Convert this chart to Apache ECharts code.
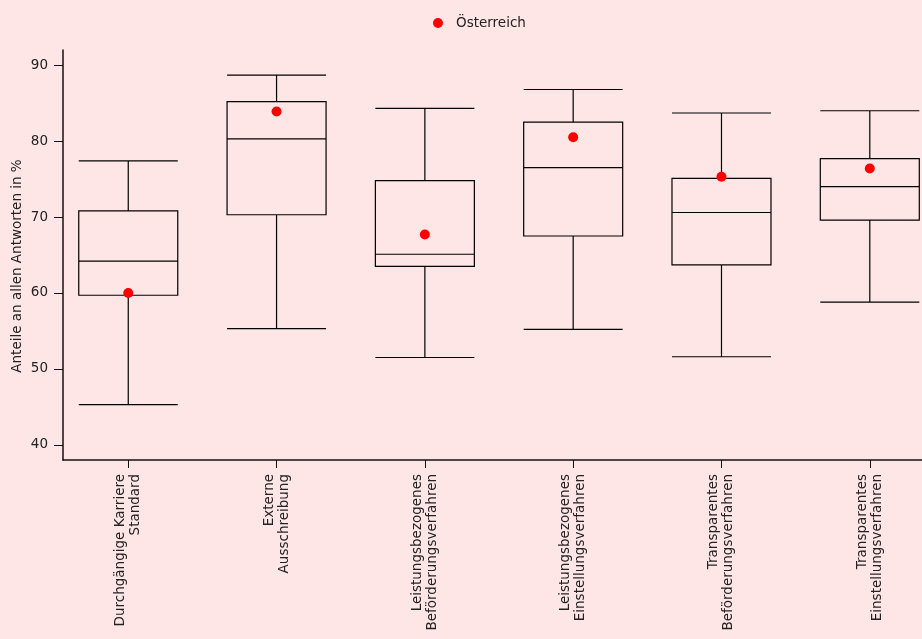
<!DOCTYPE html>
<html>
<head>
<meta charset="utf-8">
<script src="https://cdn.jsdelivr.net/npm/echarts@6/dist/echarts.min.js"></script>
<style>
  html, body { margin: 0; padding: 0; background: #fee6e6; }
  #chart { width: 922px; height: 639px; }
</style>
</head>
<body>
<div id="chart"></div>
<script>
// Survey item groups (x positions 1..6)
const categories = [
  'Durchgängige Karriere\nStandard',
  'Externe\nAusschreibung',
  'Leistungsbezogenes\nBeförderungsverfahren',
  'Leistungsbezogenes\nEinstellungsverfahren',
  'Transparentes\nBeförderungsverfahren',
  'Transparentes\nEinstellungsverfahren'
];
// Five-number summaries across countries (% of all answers)
const whiskerLow  = [45.3, 55.3, 51.5, 55.2, 51.6, 58.8];
const quartile1   = [59.7, 70.3, 63.5, 67.5, 63.7, 69.6];
const medians     = [64.2, 80.3, 65.1, 76.5, 70.6, 74.0];
const quartile3   = [70.8, 85.2, 74.8, 82.5, 75.1, 77.7];
const whiskerHigh = [77.4, 88.7, 84.3, 86.8, 83.7, 84.0];
// Values for Austria
const oesterreich = [60.0, 83.9, 67.7, 80.5, 75.3, 76.4];
// Axis ticks
const yTicks = [40, 50, 60, 70, 80, 90];
const xTicks = [1, 2, 3, 4, 5, 6];

const FONT = 'DejaVu Sans';
const FS = 13.5;
const TEXT = '#222';

const boxData = categories.map((c, i) => [
  xTicks[i], whiskerLow[i], quartile1[i], medians[i], quartile3[i], whiskerHigh[i]
]);
const pointData = categories.map((c, i) => [xTicks[i], oesterreich[i]]);

const chart = echarts.init(document.getElementById('chart'), null, { renderer: 'canvas' });
chart.setOption({
  backgroundColor: '#fee6e6',
  animation: false,
  textStyle: { fontFamily: FONT },
  legend: {
    data: ['Österreich'],
    left: 428,
    top: 11,
    icon: 'circle',
    itemWidth: 26,
    itemHeight: 10,
    textStyle: { fontFamily: FONT, fontSize: FS, color: TEXT }
  },
  grid: { left: 63, right: 0, top: 50, bottom: 179, containLabel: false, outerBoundsMode: 'none' },
  xAxis: {
    type: 'value',
    min: 0.56,
    max: 6.352,
    splitLine: { show: false },
    axisLine: { onZero: false, lineStyle: { color: '#111', width: 1.5 } },
    axisTick: { customValues: xTicks, length: 8, lineStyle: { color: '#111', width: 1 } },
    axisLabel: {
      customValues: xTicks,
      rotate: 90,
      margin: 14,
      fontFamily: FONT,
      fontSize: FS,
      lineHeight: 15,
      color: TEXT,
      formatter: v => categories[Math.round(v) - 1] || ''
    }
  },
  yAxis: {
    type: 'value',
    min: 38,
    max: 92,
    name: 'Anteile an allen Antworten in %',
    nameLocation: 'middle',
    nameGap: 39,
    nameMoveOverlap: false,
    nameTextStyle: { fontFamily: FONT, fontSize: FS, color: TEXT, padding: [0, 22, 0, 0] },
    splitLine: { show: false },
    axisLine: { onZero: false, lineStyle: { color: '#111', width: 1.5 } },
    axisTick: { customValues: yTicks, length: 9, lineStyle: { color: '#111', width: 1 } },
    axisLabel: { customValues: yTicks, margin: 15, fontFamily: FONT, fontSize: FS, color: TEXT }
  },
  series: [
    {
      name: 'Verteilung',
      type: 'boxplot',
      boxWidth: [99, 99],
      itemStyle: { color: 'transparent', borderColor: '#000', borderWidth: 1.2 },
      data: boxData
    },
    {
      name: 'Österreich',
      type: 'scatter',
      symbol: 'circle',
      symbolSize: 10,
      itemStyle: { color: '#ff0000', opacity: 1 },
      z: 5,
      data: pointData
    }
  ]
});
</script>
</body>
</html>
